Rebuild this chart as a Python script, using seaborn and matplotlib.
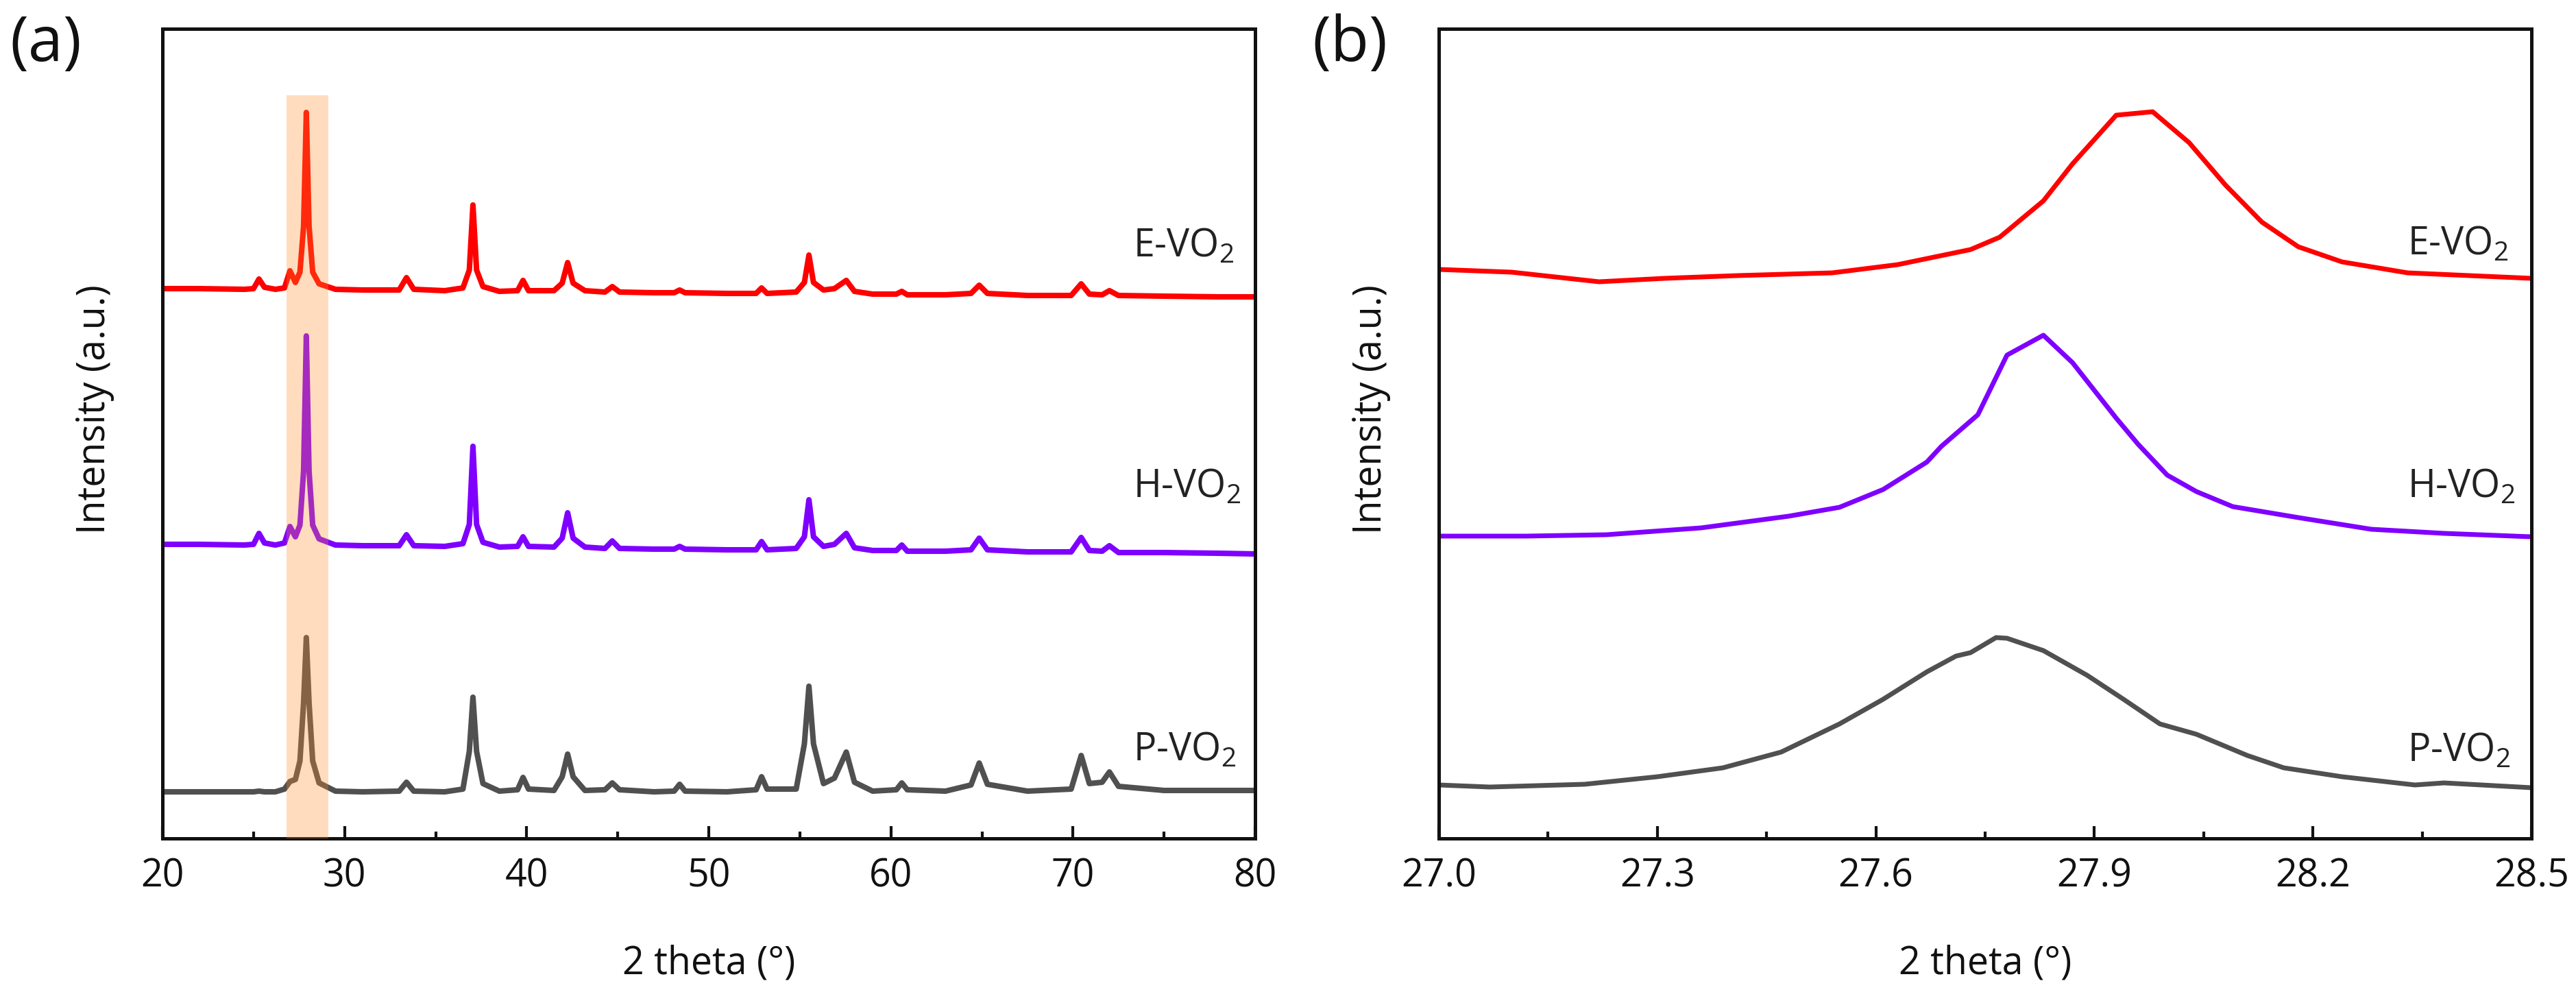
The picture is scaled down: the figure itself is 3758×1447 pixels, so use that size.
import numpy as np
import pandas as pd
import matplotlib
matplotlib.use("Agg")
import matplotlib.pyplot as plt
from matplotlib.ticker import MultipleLocator, FormatStrFormatter
import seaborn as sns

# ---------------- data ----------------
samples = ["E-VO$_2$", "H-VO$_2$", "P-VO$_2$"]
sample_keys = ["E", "H", "P"]
colors = {"E": "#FF0000", "H": "#7F00FF", "P": "#505050"}

# panel (a): full XRD patterns (stacked, arbitrary units)
two_theta_a = [20.0, 22.0, 24.5, 25.0, 25.3, 25.6, 26.2, 26.7, 27.0, 27.3, 27.55, 27.75, 27.9, 28.05,
               28.25, 28.6, 29.5, 31.0, 33.0, 33.4, 33.8, 35.5, 36.5, 36.85, 37.05, 37.25, 37.6, 38.5,
               39.5, 39.8, 40.1, 41.5, 41.95, 42.25, 42.55, 43.2, 44.3, 44.7, 45.1, 47.0, 48.1, 48.4,
               48.7, 51.0, 52.6, 52.9, 53.2, 54.8, 55.25, 55.5, 55.75, 56.3, 56.9, 57.55, 58.0, 59.0,
               60.3, 60.6, 60.9, 63.0, 64.4, 64.85, 65.3, 67.5, 69.9, 70.45, 70.9, 71.6, 72.0, 72.5,
               75.0, 78.0, 80.0]
E_a = [802, 802, 801, 802, 816, 804, 801, 803, 828, 811, 826, 893, 1059, 893,
       826, 809, 801, 800, 800, 818, 801, 799, 803, 829, 924, 829, 805, 798,
       799, 814, 799, 799, 810, 840, 810, 799, 797, 805, 797, 796, 796, 800,
       796, 795, 795, 803, 795, 797, 811, 851, 811, 800, 802, 814, 798, 794,
       794, 798, 793, 793, 795, 807, 795, 792, 792, 809, 794, 793, 799, 792,
       791, 790, 790]
H_a = [429, 429, 428, 429, 445, 431, 428, 431, 455, 440, 457, 536, 733, 536,
       457, 437, 428, 427, 427, 443, 427, 426, 430, 458, 572, 458, 432, 425,
       426, 440, 426, 425, 438, 475, 438, 425, 423, 434, 423, 422, 422, 426,
       422, 421, 421, 433, 421, 423, 440, 494, 440, 426, 429, 445, 424, 420,
       420, 428, 419, 419, 421, 438, 421, 418, 418, 439, 420, 419, 427, 417,
       417, 416, 415]
P_a = [68, 68, 68, 68, 69, 68, 68, 72, 83, 86, 113, 198, 293, 198,
       113, 81, 69, 68, 69, 82, 69, 68, 72, 127, 206, 127, 80, 69,
       71, 89, 72, 70, 90, 123, 90, 70, 71, 81, 71, 68, 69, 79,
       69, 68, 71, 90, 72, 72, 138, 222, 138, 80, 88, 126, 82, 69,
       71, 81, 71, 69, 78, 110, 79, 69, 72, 121, 80, 82, 97, 76,
       70, 70, 70]

# panel (b): zoom of the main (011) reflection
E_b_x = [27.0, 27.1, 27.22, 27.31, 27.41, 27.54, 27.63, 27.73, 27.77, 27.83, 27.87, 27.93, 27.98,
         28.03, 28.08, 28.13, 28.18, 28.24, 28.33, 28.5]
E_b_y = [830, 826, 812, 817, 821, 825, 837, 859, 877, 930, 984, 1055, 1060,
         1015, 953, 899, 863, 841, 825, 817]
H_b_x = [27.0, 27.12, 27.23, 27.36, 27.48, 27.55, 27.61, 27.67, 27.69, 27.74, 27.78, 27.83, 27.87,
         27.93, 27.96, 28.0, 28.04, 28.09, 28.18, 28.28, 28.38, 28.5]
H_b_y = [441, 441, 443, 453, 470, 483, 509, 549, 572, 618, 705, 734, 694,
         613, 575, 530, 506, 484, 468, 451, 445, 440]
P_b_x = [27.0, 27.07, 27.2, 27.3, 27.39, 27.47, 27.55, 27.61, 27.67, 27.71, 27.73, 27.765, 27.78,
         27.83, 27.89, 27.94, 27.99, 28.04, 28.11, 28.16, 28.24, 28.34, 28.38, 28.5]
P_b_y = [78, 75, 79, 90, 103, 126, 167, 203, 243, 266, 271, 293, 292,
         274, 238, 203, 167, 152, 121, 103, 90, 78, 81, 74]

ticks_a = [20, 30, 40, 50, 60, 70, 80]
ticks_b = [27.0, 27.3, 27.6, 27.9, 28.2, 28.5]
highlight = (26.8, 29.1)

# label positions (data coords)
label_y_a = {"E": 849, "H": 498, "P": 114}
label_y_b = {"E": 852, "H": 498, "P": 113}

# ---------------- style ----------------
sns.set_theme(style="white")
plt.rcParams["font.family"] = ["Open Sans", "DejaVu Sans"]
plt.rcParams["mathtext.fontset"] = "custom"
plt.rcParams["mathtext.rm"] = "Open Sans"
plt.rcParams["mathtext.it"] = "Open Sans:italic"
plt.rcParams["mathtext.bf"] = "Open Sans:bold"

FS = 40
W, H = 3758, 1447
fig = plt.figure(figsize=(W / 100, H / 100), dpi=100)
fig.patch.set_facecolor("white")

bottom_px, top_px = 1223, 42
axA = fig.add_axes([237 / W, 1 - bottom_px / H, 1594 / W, (bottom_px - top_px) / H])
axB = fig.add_axes([2099 / W, 1 - bottom_px / H, 1594 / W, (bottom_px - top_px) / H])

df_a = pd.DataFrame({
    "two_theta": two_theta_a * 3,
    "intensity": E_a + H_a + P_a,
    "sample": ["E"] * len(two_theta_a) + ["H"] * len(two_theta_a) + ["P"] * len(two_theta_a),
})
df_b = pd.DataFrame({
    "two_theta": E_b_x + H_b_x + P_b_x,
    "intensity": E_b_y + H_b_y + P_b_y,
    "sample": ["E"] * len(E_b_x) + ["H"] * len(H_b_x) + ["P"] * len(P_b_x),
})

for ax, df, lw in [(axA, df_a, 5.8), (axB, df_b, 5.0)]:
    sns.lineplot(data=df, x="two_theta", y="intensity", hue="sample", palette=colors,
                 estimator=None, sort=False, legend=False, linewidth=lw, ax=ax, zorder=2)

# highlight band in (a)
axA.axvspan(highlight[0], highlight[1], ymin=0, ymax=(1222 - 138) / 1181,
            color="#FF8C28", alpha=0.3, lw=0, zorder=3)

axA.set_xlim(20, 80)
axA.set_ylim(0, 1181)
axB.set_xlim(27.0, 28.5)
axB.set_ylim(0, 1181)

axA.set_xticks(ticks_a)
axA.xaxis.set_minor_locator(MultipleLocator(5))
axB.set_xticks(ticks_b)
axB.xaxis.set_minor_locator(MultipleLocator(0.15))
axB.xaxis.set_major_formatter(FormatStrFormatter("%.1f"))

for ax, lab_y, lab_x in [(axA, label_y_a, 73.3), (axB, label_y_b, 28.33)]:
    ax.set_yticks([])
    for sp in ax.spines.values():
        sp.set_visible(True)
        sp.set_linewidth(3.6)
        sp.set_color("#111111")
    ax.tick_params(axis="x", which="major", direction="in", length=13, width=3,
                   labelsize=FS, pad=20, top=False, bottom=True, colors="#111111")
    ax.tick_params(axis="x", which="minor", direction="in", length=7, width=3,
                   top=False, bottom=True, colors="#111111")
    ax.set_xlabel("2 theta (°)", fontsize=FS, labelpad=50, color="#111111")
    ax.set_ylabel("Intensity (a.u.)", fontsize=FS, color="#111111")
    ax.yaxis.set_label_coords(-0.044, (1222 - 596) / 1181)
    ax.set_facecolor("white")
    for k, name in zip(sample_keys, samples):
        ax.text(lab_x, lab_y[k], name, fontsize=FS, color="#222222",
                ha="left", va="baseline", zorder=5)

fig.text(14 / W, 1 - 20 / H, "(a)", fontsize=66, ha="left", va="top", color="#111111")
fig.text(1914 / W, 1 - 20 / H, "(b)", fontsize=66, ha="left", va="top", color="#111111")

fig.savefig("out.png", dpi=100, facecolor="white")
